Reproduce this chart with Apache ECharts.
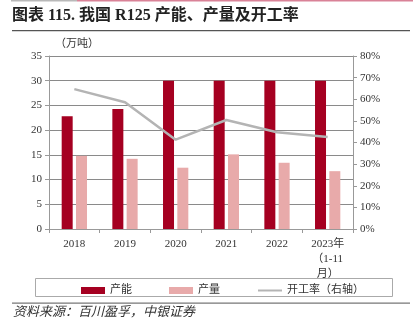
<!DOCTYPE html>
<html><head><meta charset="utf-8">
<script src="https://cdn.jsdelivr.net/npm/echarts@6/dist/echarts.min.js"></script>
<style>html,body{margin:0;padding:0;background:#fff}#c{width:413px;height:334px}</style>
</head><body><div id="c"></div>
<script>
const categories = ['2018','2019','2020','2021','2022','2023年\n（1-11\n月）'];
const capacity = [22.8, 24.3, 30, 30, 30, 30];
const production = [14.8, 14.2, 12.4, 15.1, 13.4, 11.7];
const utilization = [0.647, 0.586, 0.413, 0.504, 0.447, 0.425];
const leftTicks = {min:0, max:35, interval:5};
const rightTicks = {min:0, max:0.8, interval:0.1};

const serif = '"Liberation Serif","Times New Roman","Noto Sans CJK SC",serif';
const chart = echarts.init(document.getElementById('c'), null, {renderer:'canvas'});
chart.setOption({
  animation:false,
  backgroundColor:'#fff',
  grid:{left:49, right:60, top:56, bottom:105, containLabel:false},
  legend:{
    left:76, top:280, itemGap:37, itemWidth:24, itemHeight:7,
    textStyle:{fontFamily:serif, fontSize:11, color:'#333'},
    data:[{name:'产能',icon:'rect'},{name:'产量',icon:'rect'},
      {name:'开工率（右轴）',itemStyle:{opacity:0}}]
  },
  xAxis:{
    type:'category', data:categories,
    axisLine:{lineStyle:{color:'#999',width:1}},
    axisTick:{show:true,length:4,lineStyle:{color:'#999'}},
    axisLabel:{fontFamily:serif,fontSize:11,color:'#333',margin:8,lineHeight:15,interval:0}
  },
  yAxis:[{
    type:'value', min:leftTicks.min, max:leftTicks.max, interval:leftTicks.interval,
    axisLine:{show:true,lineStyle:{color:'#999'}},
    axisTick:{show:true,length:4,lineStyle:{color:'#999'}},
    axisLabel:{fontFamily:serif,fontSize:11,color:'#333',margin:7},
    splitLine:{show:true,lineStyle:{color:'#8a8a8a',width:1}}
  },{
    type:'value', min:rightTicks.min, max:rightTicks.max, interval:rightTicks.interval,
    axisLine:{show:true,lineStyle:{color:'#999'}},
    axisTick:{show:true,length:4,lineStyle:{color:'#999'}},
    axisLabel:{fontFamily:serif,fontSize:11,color:'#333',margin:7,
      formatter:v=>Math.round(v*100)+'%'},
    splitLine:{show:false}
  }],
  series:[
    {name:'产能',type:'bar',data:capacity,barWidth:11,barGap:'30%',itemStyle:{color:'#a50021'}},
    {name:'产量',type:'bar',data:production,barWidth:11,itemStyle:{color:'#e8aaaa'}},
    {name:'开工率（右轴）',type:'line',yAxisIndex:1,data:utilization,symbol:'none',
      lineStyle:{color:'#b4b4b4',width:2.5},itemStyle:{color:'#b4b4b4'}}
  ],
  graphic:[
    {type:'rect',shape:{x:11,y:0,width:66,height:1.5},style:{fill:'#b9b9b9'}},
    {type:'rect',shape:{x:77,y:0,width:336,height:1.5},style:{fill:'#d98297'}},
    {type:'text',left:12,top:8,style:{text:'图表 115. 我国 R125 产能、产量及开工率',
      font:'bold 16px '+serif,fill:'#222'}},
    {type:'rect',shape:{x:12,y:30,width:398,height:1.3},style:{fill:'#555'}},
    {type:'text',left:55,top:39,style:{text:'（万吨）',font:'11px '+serif,fill:'#333'}},
    {type:'rect',shape:{x:35.5,y:278.5,width:357,height:18},style:{fill:'none',stroke:'#aaa',lineWidth:1}},
    {type:'rect',shape:{x:12,y:302.5,width:398,height:1.3},style:{fill:'#777'}},
    {type:'text',left:13,top:306,style:{text:'资料来源：百川盈孚，中银证券',
      font:'italic 13px '+serif,fill:'#333'}}
  ]
});
</script></body></html>
